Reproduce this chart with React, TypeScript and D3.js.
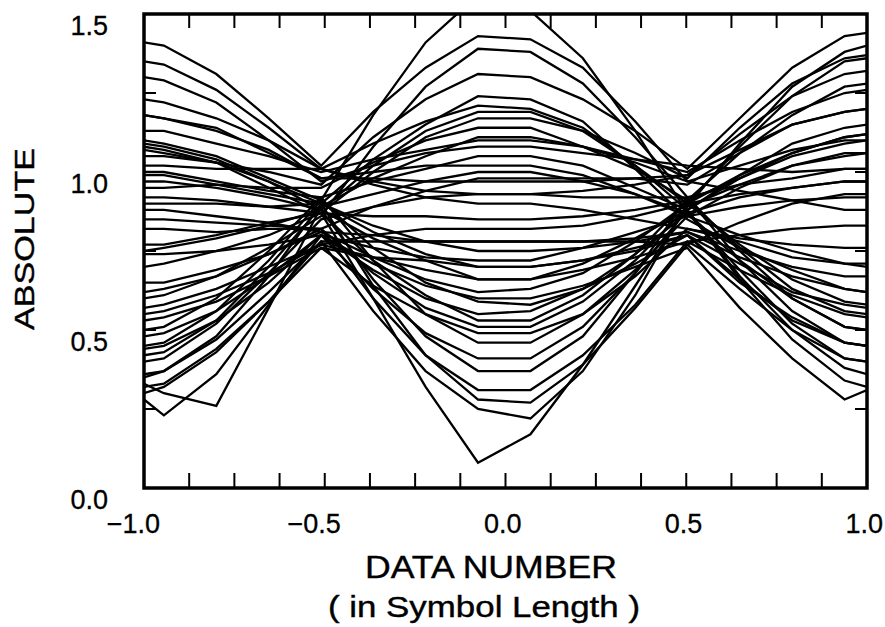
import React from 'react';
import * as d3 from 'd3';

// sample positions (in symbol lengths) shared by every trace
const SAMPLE_X = [-1.0, -0.945, -0.8, -0.655, -0.51, -0.366, -0.221, -0.076, 0.069, 0.214, 0.359, 0.503, 0.648, 0.793, 0.938, 1.0];

const t01 = [0.45, 0.46, 0.56, 0.72, 0.91, 1.18, 1.41, 1.56, 1.51, 1.36, 1.13, 0.87, 0.72, 0.60, 0.51, 0.50];
const t02 = [1.41, 1.40, 1.31, 1.17, 1.02, 1.19, 1.33, 1.43, 1.42, 1.33, 1.16, 0.97, 1.02, 1.07, 1.10, 1.10];
const t03 = [0.60, 0.61, 0.67, 0.76, 0.86, 1.08, 1.27, 1.39, 1.38, 1.28, 1.11, 0.92, 0.72, 0.56, 0.46, 0.45];
const t04 = [1.05, 1.05, 1.03, 1.00, 0.96, 1.11, 1.23, 1.31, 1.30, 1.23, 1.13, 1.01, 1.17, 1.33, 1.43, 1.44];
const t05 = [0.35, 0.37, 0.48, 0.67, 0.90, 1.04, 1.15, 1.24, 1.23, 1.16, 1.01, 0.85, 0.76, 0.69, 0.63, 0.62];
const t06 = [1.23, 1.22, 1.17, 1.10, 1.01, 1.09, 1.16, 1.21, 1.20, 1.14, 1.02, 0.88, 0.66, 0.47, 0.34, 0.32];
const t07 = [0.70, 0.71, 0.75, 0.80, 0.87, 1.00, 1.11, 1.17, 1.17, 1.13, 1.06, 0.98, 1.14, 1.28, 1.36, 1.37];
const t08 = [0.95, 0.95, 0.96, 0.95, 0.95, 1.03, 1.10, 1.14, 1.14, 1.08, 1.01, 0.91, 0.76, 0.63, 0.56, 0.55];
const t09 = [0.33, 0.30, 0.26, 0.57, 0.89, 0.98, 1.05, 1.11, 1.11, 1.08, 1.04, 1.00, 1.10, 1.19, 1.25, 1.26];
const t10 = [1.30, 1.29, 1.22, 1.10, 0.97, 1.02, 1.06, 1.08, 1.08, 1.06, 1.04, 1.02, 1.01, 1.00, 1.01, 1.01];
const t11 = [0.50, 0.51, 0.60, 0.75, 0.92, 0.97, 1.01, 1.05, 1.05, 1.02, 0.95, 0.88, 0.67, 0.50, 0.38, 0.36];
const t12 = [1.18, 1.17, 1.14, 1.06, 0.98, 1.00, 1.02, 1.02, 1.02, 0.99, 0.93, 0.86, 0.80, 0.75, 0.71, 0.70];
const t13 = [0.82, 0.82, 0.81, 0.82, 0.82, 0.89, 0.94, 0.98, 0.98, 0.98, 0.98, 0.96, 1.06, 1.15, 1.19, 1.20];
const t14 = [0.40, 0.41, 0.52, 0.68, 0.85, 0.89, 0.92, 0.93, 0.93, 0.94, 0.96, 0.99, 1.12, 1.24, 1.31, 1.32];
const t15 = [1.35, 1.34, 1.26, 1.14, 1.01, 0.96, 0.92, 0.90, 0.90, 0.88, 0.85, 0.82, 0.79, 0.77, 0.76, 0.76];
const t16 = [0.57, 0.58, 0.63, 0.70, 0.77, 0.80, 0.82, 0.82, 0.82, 0.83, 0.86, 0.90, 0.99, 1.06, 1.11, 1.12];
const t17 = [0.88, 0.88, 0.86, 0.84, 0.81, 0.80, 0.78, 0.78, 0.78, 0.78, 0.78, 0.77, 0.84, 0.90, 0.93, 0.93];
const t18 = [1.08, 1.07, 1.03, 0.97, 0.90, 0.83, 0.78, 0.75, 0.75, 0.76, 0.78, 0.81, 0.75, 0.70, 0.67, 0.67];
const t19 = [0.74, 0.74, 0.75, 0.77, 0.80, 0.76, 0.73, 0.72, 0.72, 0.76, 0.81, 0.86, 0.95, 1.02, 1.05, 1.06];
const t20 = [0.32, 0.33, 0.44, 0.59, 0.76, 0.73, 0.72, 0.70, 0.70, 0.72, 0.76, 0.80, 0.71, 0.62, 0.58, 0.57];
const t21 = [0.97, 0.97, 0.95, 0.92, 0.88, 0.79, 0.72, 0.66, 0.66, 0.69, 0.73, 0.78, 0.80, 0.82, 0.83, 0.83];
const t22 = [0.65, 0.65, 0.69, 0.74, 0.81, 0.73, 0.66, 0.62, 0.63, 0.68, 0.78, 0.90, 1.08, 1.24, 1.35, 1.36];
const t23 = [1.10, 1.09, 1.05, 0.98, 0.91, 0.76, 0.65, 0.59, 0.58, 0.63, 0.71, 0.80, 0.66, 0.53, 0.46, 0.45];
const t24 = [0.44, 0.45, 0.53, 0.65, 0.80, 0.69, 0.60, 0.55, 0.56, 0.63, 0.74, 0.87, 0.92, 0.95, 0.97, 0.97];
const t25 = [0.92, 0.92, 0.91, 0.89, 0.87, 0.72, 0.61, 0.53, 0.53, 0.61, 0.74, 0.91, 0.98, 1.05, 1.09, 1.10];
const t26 = [0.53, 0.54, 0.59, 0.67, 0.76, 0.64, 0.55, 0.49, 0.49, 0.55, 0.67, 0.82, 0.78, 0.73, 0.71, 0.71];
const t27 = [1.00, 1.00, 0.97, 0.94, 0.92, 0.72, 0.55, 0.46, 0.46, 0.55, 0.69, 0.86, 0.89, 0.91, 0.92, 0.92];
const t28 = [0.28, 0.23, 0.36, 0.58, 0.80, 0.63, 0.49, 0.41, 0.41, 0.51, 0.68, 0.88, 0.98, 1.06, 1.11, 1.12];
const t29 = [1.09, 1.08, 1.04, 0.97, 0.88, 0.66, 0.48, 0.37, 0.37, 0.48, 0.68, 0.92, 0.96, 0.98, 1.01, 1.01];
const t30 = [0.85, 0.85, 0.84, 0.83, 0.82, 0.60, 0.42, 0.31, 0.31, 0.42, 0.58, 0.78, 0.69, 0.61, 0.55, 0.54];
const t31 = [0.36, 0.37, 0.47, 0.62, 0.78, 0.56, 0.37, 0.25, 0.22, 0.37, 0.61, 0.90, 0.93, 0.95, 0.97, 0.97];
const t32 = [0.99, 0.99, 0.96, 0.93, 0.90, 0.64, 0.42, 0.28, 0.27, 0.39, 0.57, 0.77, 0.63, 0.50, 0.41, 0.40];
const t33 = [0.77, 0.77, 0.80, 0.84, 0.87, 0.60, 0.32, 0.08, 0.17, 0.39, 0.64, 0.89, 0.96, 1.02, 1.06, 1.06];
const t34 = [0.48, 0.49, 0.56, 0.67, 0.80, 0.71, 0.64, 0.60, 0.60, 0.64, 0.70, 0.76, 0.57, 0.41, 0.28, 0.31];
const t35 = [1.18, 1.17, 1.13, 1.07, 0.98, 0.98, 0.97, 0.97, 0.97, 0.97, 0.98, 0.99, 1.07, 1.15, 1.19, 1.20];
const t36 = [1.13, 1.13, 1.09, 1.05, 1.00, 1.04, 1.07, 1.10, 1.10, 1.08, 1.03, 0.97, 0.94, 0.91, 0.88, 0.88];
const t37 = [0.30, 0.32, 0.43, 0.59, 0.78, 0.78, 0.78, 0.78, 0.78, 0.78, 0.79, 0.81, 0.73, 0.67, 0.63, 0.62];
const t38 = [1.07, 1.06, 1.03, 0.95, 0.87, 0.86, 0.86, 0.85, 0.85, 0.86, 0.88, 0.91, 1.06, 1.18, 1.27, 1.28];
const t39 = [0.62, 0.63, 0.67, 0.74, 0.82, 0.68, 0.57, 0.51, 0.51, 0.59, 0.72, 0.89, 1.09, 1.27, 1.38, 1.40];
const t40 = [0.90, 0.90, 0.90, 0.89, 0.90, 0.81, 0.74, 0.70, 0.70, 0.72, 0.75, 0.80, 0.65, 0.54, 0.46, 0.45];
const t41 = [0.75, 0.76, 0.79, 0.83, 0.88, 1.02, 1.13, 1.19, 1.19, 1.13, 1.02, 0.90, 0.77, 0.66, 0.59, 0.58];
const t42 = [1.02, 1.02, 1.01, 1.01, 1.01, 0.97, 0.94, 0.93, 0.93, 0.92, 0.92, 0.92, 0.75, 0.60, 0.51, 0.50];
const t43 = [0.42, 0.43, 0.53, 0.70, 0.89, 0.93, 0.97, 1.00, 1.00, 0.97, 0.93, 0.87, 0.69, 0.52, 0.41, 0.40];
const t44 = [0.55, 0.56, 0.61, 0.68, 0.77, 0.73, 0.69, 0.66, 0.66, 0.71, 0.79, 0.88, 0.99, 1.09, 1.14, 1.15];

const TRACES = [t01, t02, t03, t04, t05, t06, t07, t08, t09, t10, t11, t12, t13, t14, t15, t16, t17, t18, t19, t20, t21, t22,
  t23, t24, t25, t26, t27, t28, t29, t30, t31, t32, t33, t34, t35, t36, t37, t38, t39, t40, t41, t42, t43, t44];

const X_MINOR_TICKS = [-0.875, -0.75, -0.625, -0.5, -0.375, -0.25, -0.125, 0, 0.125, 0.25, 0.375, 0.5, 0.625, 0.75, 0.875];
const X_LABELS = [-1.0, -0.5, 0.0, 0.5, 1.0];
const Y_MINOR_TICKS = [0.25, 0.5, 0.75, 1.0, 1.25];
const Y_LABELS = [0.0, 0.5, 1.0, 1.5];

const W = 885, H = 627;
const L = 144, R = 867, T = 14, B = 488;

export default function App() {
  const x = d3.scaleLinear().domain([-1, 1]).range([L, R]);
  const y = d3.scaleLinear().domain([0, 1.5]).range([B, T]);
  const line = d3.line<number>().x((_, i) => x(SAMPLE_X[i])).y(d => y(d));
  const fmt = (v: number) => (v < 0 ? '\u2212' : '') + Math.abs(v).toFixed(1);
  const font = '"Liberation Sans", Arial, sans-serif';

  return (
    <svg width={W} height={H} style={{ position: 'absolute', left: 0, top: 0, background: '#fff' }}
      xmlns="http://www.w3.org/2000/svg">
      <defs>
        <clipPath id="plot">
          <rect x={L} y={T} width={R - L} height={B - T} />
        </clipPath>
      </defs>
      <rect x={0} y={0} width={W} height={H} fill="#fff" />
      <g clipPath="url(#plot)">
        {TRACES.map((tr, i) => (
          <path key={i} d={line(tr) || ''} fill="none" stroke="#000" strokeWidth={2.3} strokeLinejoin="miter" />
        ))}
      </g>
      {/* ticks */}
      <g stroke="#000" strokeWidth={2}>
        {X_MINOR_TICKS.map(v => (
          <g key={'xt' + v}>
            <line x1={x(v)} x2={x(v)} y1={B} y2={B - 15} />
            <line x1={x(v)} x2={x(v)} y1={T} y2={T + 14} />
          </g>
        ))}
        {Y_MINOR_TICKS.map(v => (
          <g key={'yt' + v}>
            <line x1={L} x2={L + 12} y1={y(v)} y2={y(v)} />
            <line x1={R} x2={R - 12} y1={y(v)} y2={y(v)} />
          </g>
        ))}
      </g>
      <rect x={L} y={T} width={R - L} height={B - T} fill="none" stroke="#000" strokeWidth={3.5} />
      {/* tick labels */}
      <g fontFamily={font} fontSize={27} fill="#000" stroke="#000" strokeWidth={0.3}>
        {Y_LABELS.map(v => (
          <text key={'yl' + v} x={108} y={y(v) + 21} textAnchor="end">{fmt(v)}</text>
        ))}
        {X_LABELS.map(v => (
          <text key={'xl' + v} x={x(v) + 16} y={533} textAnchor="end">{fmt(v)}</text>
        ))}
      </g>
      <g fontFamily={font} fill="#000" stroke="#000" strokeWidth={0.4}>
        <text x={491} y={578} textAnchor="middle" fontSize={32} textLength={252}
          lengthAdjust="spacingAndGlyphs">DATA NUMBER</text>
        <text x={484} y={617} textAnchor="middle" fontSize={30} textLength={312}
          lengthAdjust="spacingAndGlyphs">( in Symbol Length )</text>
        <text transform="translate(34,239) rotate(-90)" textAnchor="middle" fontSize={28}
          textLength={182} lengthAdjust="spacingAndGlyphs">ABSOLUTE</text>
      </g>
    </svg>
  );
}
